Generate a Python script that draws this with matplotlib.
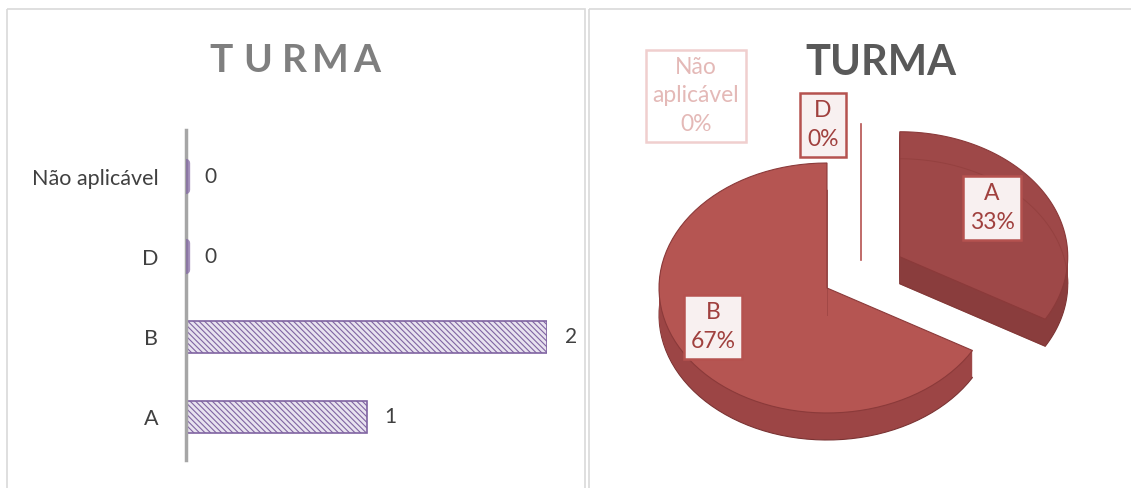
import matplotlib

matplotlib.use("Agg")
import matplotlib.pyplot as plt
import numpy as np
from matplotlib.patches import Polygon, Rectangle

plt.rcParams["font.family"] = ["Lato", "DejaVu Sans"]
plt.rcParams["hatch.linewidth"] = 0.8

# data
categories = ["A", "B", "D", "Não aplicável"]
counts = [1, 2, 0, 0]
title = "TURMA"

W, H = 1131, 488
fig = plt.figure(figsize=(W / 100, H / 100), dpi=100)
fig.patch.set_facecolor("white")

# panel frames
frame = fig.add_axes([0, 0, 1, 1])
frame.set_xlim(0, W)
frame.set_ylim(H, 0)
frame.axis("off")
frame.add_patch(Rectangle((7, 9), 578, 490, fill=False, ec="#D9D9D9", lw=1.2))
frame.add_patch(Rectangle((589, 9), 560, 490, fill=False, ec="#D9D9D9", lw=1.2))

# ---- left: bar chart ----
ax = fig.add_axes([186 / W, 28 / H, 361 / W, 330 / H])
ypos = np.arange(len(categories))
ax.barh(ypos, counts, height=0.4, color="#E8E2EF", edgecolor="#8064A2",
        hatch="\\\\\\\\\\\\", lw=1.2)
for y, v in zip(ypos, counts):
    if v == 0:
        ax.plot([0, 0], [y - 0.17, y + 0.17], color="#8064A2", lw=6, alpha=0.7,
                solid_capstyle="round", zorder=3)
    ax.annotate(str(v), (v, y), xytext=(13, 0), textcoords="offset points",
                va="center", ha="left", fontsize=15, color="#404040")
ax.set_xlim(0, 2)
ax.set_ylim(-0.54, 3.585)
ax.set_yticks(ypos, categories, fontsize=15.5, color="#404040")
ax.tick_params(axis="y", length=0, pad=20)
ax.set_xticks([])
for s in ["top", "right", "bottom"]:
    ax.spines[s].set_visible(False)
ax.spines["left"].set_color("#A6A6A6")
ax.spines["left"].set_linewidth(2.5)
ax.patch.set_alpha(0)

for i, ch in enumerate(title):
    frame.text(221 + i * 36.5, 60, ch, ha="center", va="center", fontsize=28,
               fontweight="bold", color="#7F7F7F")

# ---- right: pseudo 3D exploded pie ----
cx, cy, rx, ry, depth = 827, 288, 168, 125, 27
explode = {"A": 0.5}
top_colors = {"A": "#9E4848", "B": "#B55552"}
side_colors = {"A": "#8A3D3D", "B": "#9C4545"}

total = sum(counts)
start = 90.0
wedges = []
for cat, v in zip(categories, counts):
    sweep = 360.0 * v / total
    wedges.append((cat, v, start - sweep, start))
    start -= sweep


def wedge_pts(a0, a1, ox, oy, dz=0.0):
    th = np.radians(np.linspace(a0, a1, 80))
    xs = np.concatenate([[cx], cx + rx * np.cos(th), [cx]]) + ox
    ys = np.concatenate([[cy], cy - ry * np.sin(th), [cy]]) + oy + dz
    return np.column_stack([xs, ys])


for cat, v, a0, a1 in wedges:
    if v == 0:
        continue
    mid = np.radians((a0 + a1) / 2)
    e = explode.get(cat, 0.0)
    ox, oy = e * rx * np.cos(mid), -e * ry * np.sin(mid)
    # side wall: stacked copies
    frame.add_patch(Polygon(wedge_pts(a0, a1, ox, oy, depth), closed=True,
                            fc=side_colors[cat], ec="#7A3333", lw=0.8))
    for dz in np.linspace(depth - 1, 1, 26):
        frame.add_patch(Polygon(wedge_pts(a0, a1, ox, oy, dz), closed=True,
                                fc=side_colors[cat], ec="none"))
    frame.add_patch(Polygon(wedge_pts(a0, a1, ox, oy), closed=True,
                            fc=top_colors[cat], ec="#8B3A3A", lw=0.8))
    # back bottom edge seen through the translucent top
    th = np.radians(np.linspace(max(a0, 0), min(a1, 180), 60)) if a1 > 0 else []
    if len(th):
        frame.plot(cx + ox + rx * np.cos(th), cy + oy + depth - ry * np.sin(th),
                   color="#8E3C3A", lw=0.7, alpha=0.6)
    frame.plot([cx + ox, cx + ox + rx * np.cos(np.radians(a0))],
               [cy + oy + depth, cy + oy + depth - ry * np.sin(np.radians(a0))],
               color="#8E3C3A", lw=0.7, alpha=0.5)

# zero slices: a thin line at the top
frame.plot([861, 861], [124, 260], color="#B5524F", lw=1.2)

lab_style = dict(ha="center", va="center", fontsize=16.5, linespacing=1.45)
pct = [f"{round(100 * v / total)}%" for v in counts]
lab_pos = {"A": (992, 208), "B": (713, 327), "D": (823, 125), "Não aplicável": (696, 96)}
for cat, p in zip(categories, pct):
    text = cat.replace(" ", "\n") + "\n" + p
    x, y = lab_pos[cat]
    if cat == "Não aplicável":
        frame.text(x, y, text, color="#E4B9B7",
                   bbox=dict(boxstyle="square,pad=0.3", fc="white", ec="#F0CFCE", lw=1.8),
                   **lab_style)
    else:
        frame.text(x, y, text, color="#A0403E",
                   bbox=dict(boxstyle="square,pad=0.3", fc="#F8F0F0", ec="#B5524F", lw=1.8),
                   **lab_style)

frame.text(881, 63, title, ha="center", va="center", fontsize=30,
           fontweight="bold", color="#595959")

fig.savefig("out.png", dpi=100)
